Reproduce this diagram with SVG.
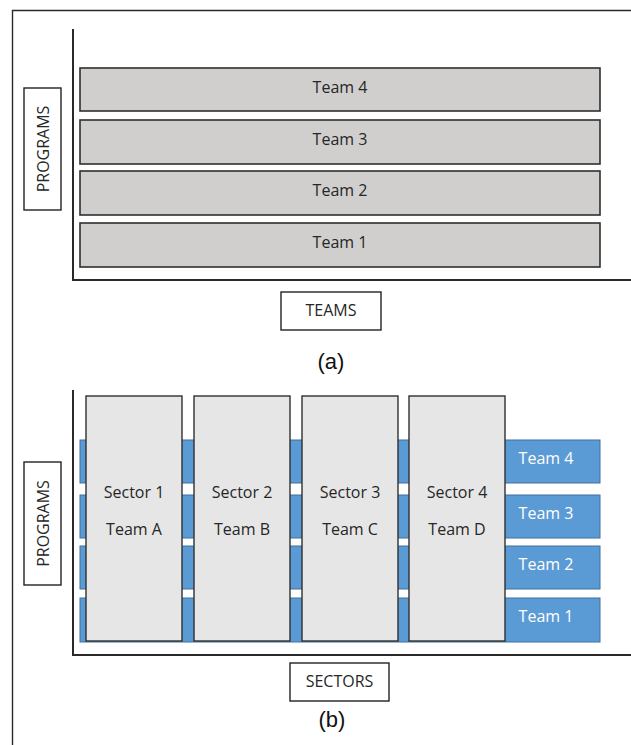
<svg xmlns="http://www.w3.org/2000/svg" width="631" height="745" viewBox="0 0 631 745">
<style>
.t{font-family:"Open Sans","Liberation Sans",sans-serif;font-size:16px;fill:#262626;text-anchor:middle;dominant-baseline:central}
.w{fill:#ffffff}
.grey{fill:#d0cfce;stroke:#2f2f2f;stroke-width:1.6}
.blue{fill:#5b9bd5;stroke:#41719c;stroke-width:1}
.sec{fill:#e7e6e6;stroke:#2f2f2f;stroke-width:1.4}
.lbl{fill:#fff;stroke:#222;stroke-width:1.4}
.ax{stroke:#2a2a2a;stroke-width:2;fill:none}
.cap{font-family:"Liberation Sans",Arial,sans-serif;font-size:22px;fill:#111;text-anchor:middle}
</style>
<rect width="631" height="745" fill="#fff"/>
<path d="M12.5,745 V10.5 H631" fill="none" stroke="#2a2a2a" stroke-width="1.4"/>
<g id="connectors">
<path class="ax" d="M73,29 V280 H631"/>
<path class="ax" d="M73,390 V655 H631"/>
</g>
<g id="a-programs"><rect class="lbl" x="24" y="88" width="37" height="122"/><text class="t" transform="translate(42.5,149) rotate(-90)">PROGRAMS</text></g>
<g id="a-team4"><rect class="grey" x="80" y="68" width="520" height="43"/><text class="t" x="340" y="87">Team 4</text></g>
<g id="a-team3"><rect class="grey" x="80" y="120" width="520" height="44"/><text class="t" x="340" y="139">Team 3</text></g>
<g id="a-team2"><rect class="grey" x="80" y="171" width="520" height="44"/><text class="t" x="340" y="190">Team 2</text></g>
<g id="a-team1"><rect class="grey" x="80" y="223" width="520" height="44"/><text class="t" x="340" y="242">Team 1</text></g>
<g id="a-teams"><rect class="lbl" x="281" y="292" width="100" height="38"/><text class="t" x="331" y="310">TEAMS</text></g>
<text class="cap" x="331" y="369">(a)</text>
<g id="b-programs"><rect class="lbl" x="24" y="462" width="37" height="123"/><text class="t" transform="translate(42.5,523.5) rotate(-90)">PROGRAMS</text></g>
<g id="b-team4"><rect class="blue" x="80" y="440" width="520" height="43"/><text class="t w" x="546" y="458">Team 4</text></g>
<g id="b-team3"><rect class="blue" x="80" y="495" width="520" height="43"/><text class="t w" x="546" y="513">Team 3</text></g>
<g id="b-team2"><rect class="blue" x="80" y="546" width="520" height="43"/><text class="t w" x="546" y="564">Team 2</text></g>
<g id="b-team1"><rect class="blue" x="80" y="598" width="520" height="44"/><text class="t w" x="546" y="616">Team 1</text></g>
<g id="sector1"><rect class="sec" x="86" y="396" width="96" height="245"/><text class="t" x="134" y="492">Sector 1</text><text class="t" x="134" y="529">Team A</text></g>
<g id="sector2"><rect class="sec" x="194" y="396" width="96" height="245"/><text class="t" x="242" y="492">Sector 2</text><text class="t" x="242" y="529">Team B</text></g>
<g id="sector3"><rect class="sec" x="302" y="396" width="96" height="245"/><text class="t" x="350" y="492">Sector 3</text><text class="t" x="350" y="529">Team C</text></g>
<g id="sector4"><rect class="sec" x="409" y="396" width="96" height="245"/><text class="t" x="457" y="492">Sector 4</text><text class="t" x="457" y="529">Team D</text></g>
<g id="b-sectors"><rect class="lbl" x="290" y="663" width="99" height="38"/><text class="t" x="339.5" y="681">SECTORS</text></g>
<text class="cap" x="332" y="727">(b)</text>
</svg>
